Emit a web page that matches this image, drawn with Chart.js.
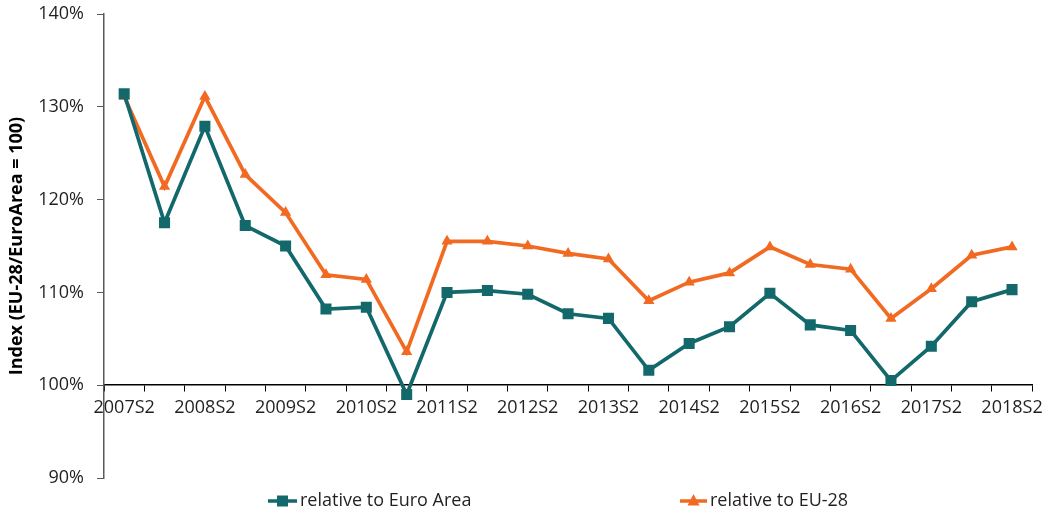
<!DOCTYPE html>
<html>
<head>
<meta charset="utf-8">
<script src="https://cdn.jsdelivr.net/npm/chart.js@4.4.1/dist/chart.umd.min.js"></script>
<style>
  html, body { margin: 0; padding: 0; background: #fff; }
  #wrap { width: 1049px; height: 518px; position: relative; }
</style>
</head>
<body>
<div id="wrap"><canvas id="c" width="1049" height="518"></canvas></div>
<script>
const categories = ["2007S2","2008S1","2008S2","2009S1","2009S2","2010S1","2010S2","2011S1","2011S2","2012S1","2012S2","2013S1","2013S2","2014S1","2014S2","2015S1","2015S2","2016S1","2016S2","2017S1","2017S2","2018S1","2018S2"];
const euroArea = [131.4,117.5,127.9,117.2,115.0,108.2,108.4,99.0,110.0,110.2,109.8,107.7,107.2,101.6,104.5,106.3,109.9,106.5,105.9,100.5,104.2,109.0,110.3];
const eu28 = [131.1,121.4,131.1,122.7,118.6,111.9,111.4,103.6,115.5,115.5,115.0,114.2,113.6,109.1,111.1,112.1,114.9,113.0,112.5,107.2,110.4,114.0,114.9];
const seriesNames = ["relative to Euro Area", "relative to EU-28"];
const yTicks = [90, 100, 110, 120, 130, 140];

const TEAL = "#12686B";
const ORANGE = "#F26A21";
const FONT = "'Open Sans', 'Noto Sans', sans-serif";

const legendPlugin = {
  id: 'customLegend',
  afterDraw(chart) {
    const ctx = chart.ctx;
    const items = [
      {x0: 268, x1: 297, tx: 300, style: 'rect'},
      {x0: 680, x1: 707, tx: 710, style: 'triangle'}
    ];
    const y = 501;
    ctx.save();
    chart.data.datasets.forEach((ds, i) => {
      const it = items[i];
      ctx.strokeStyle = ds.borderColor;
      ctx.lineWidth = 3.5;
      ctx.beginPath();
      ctx.moveTo(it.x0, y);
      ctx.lineTo(it.x1, y);
      ctx.stroke();
      ctx.fillStyle = ds.borderColor;
      ctx.beginPath();
      const cx = (it.x0 + it.x1) / 2;
      if (it.style === 'rect') {
        ctx.rect(cx - 5.5, y - 5.5, 11, 11);
      } else {
        ctx.moveTo(cx, y - 7);
        ctx.lineTo(cx + 6, y + 4.5);
        ctx.lineTo(cx - 6, y + 4.5);
        ctx.closePath();
      }
      ctx.fill();
      ctx.fillStyle = '#231F20';
      ctx.font = "18px " + FONT;
      ctx.textBaseline = 'middle';
      ctx.textAlign = 'left';
      ctx.fillText(ds.label, it.tx, y);
    });
    ctx.restore();
  }
};

new Chart(document.getElementById('c'), {
  type: 'line',
  data: {
    labels: categories,
    datasets: [
      {
        label: seriesNames[0],
        data: euroArea,
        borderColor: TEAL,
        backgroundColor: TEAL,
        borderWidth: 3.7,
        pointStyle: 'rect',
        pointRadius: 7.8,
        pointBorderWidth: 0,
        pointHoverRadius: 7.8,
        tension: 0
      },
      {
        label: seriesNames[1],
        data: eu28,
        borderColor: ORANGE,
        backgroundColor: ORANGE,
        borderWidth: 3.7,
        pointStyle: 'triangle',
        pointRadius: 6.5,
        pointBorderWidth: 0,
        pointHoverRadius: 6.5,
        tension: 0
      }
    ]
  },
  options: {
    responsive: false,
    animation: false,
    layout: { padding: { top: 14, right: 14, bottom: 40, left: 0 } },
    plugins: { legend: { display: false }, tooltip: { enabled: false } },
    scales: {
      x: {
        type: 'category',
        position: { y: 100 },
        offset: true,
        grid: { display: true, drawOnChartArea: false, drawTicks: true, tickLength: 6, offset: true, color: '#000', lineWidth: 1 },
        border: { display: true, color: '#000', width: 1.5 },
        ticks: {
          autoSkip: false,
          maxRotation: 0,
          padding: 6,
          color: '#231F20',
          font: { family: FONT, size: 18 },
          callback: function(val, idx) { return idx % 2 === 0 ? categories[idx] : ''; }
        }
      },
      y: {
        min: 90,
        max: 140,
        afterFit: function(scale) { scale.width = 104; scale.paddingTop = 7; },
        afterBuildTicks: function(scale) { scale.ticks = yTicks.map(v => ({ value: v })); },
        grid: { display: true, drawOnChartArea: false, drawTicks: true, tickLength: 7, color: '#595959' },
        border: { display: true, color: '#595959', width: 1.5 },
        ticks: {
          padding: 13,
          color: '#231F20',
          font: { family: FONT, size: 18 },
          callback: function(v) { return v + '%'; }
        },
        title: {
          display: true,
          text: 'Index (EU-28/EuroArea = 100)',
          color: '#000',
          font: { family: FONT, size: 18, weight: 'bold' },
          padding: { top: 6, bottom: 0 }
        }
      }
    }
  },
  plugins: [legendPlugin]
});
</script>
</body>
</html>
